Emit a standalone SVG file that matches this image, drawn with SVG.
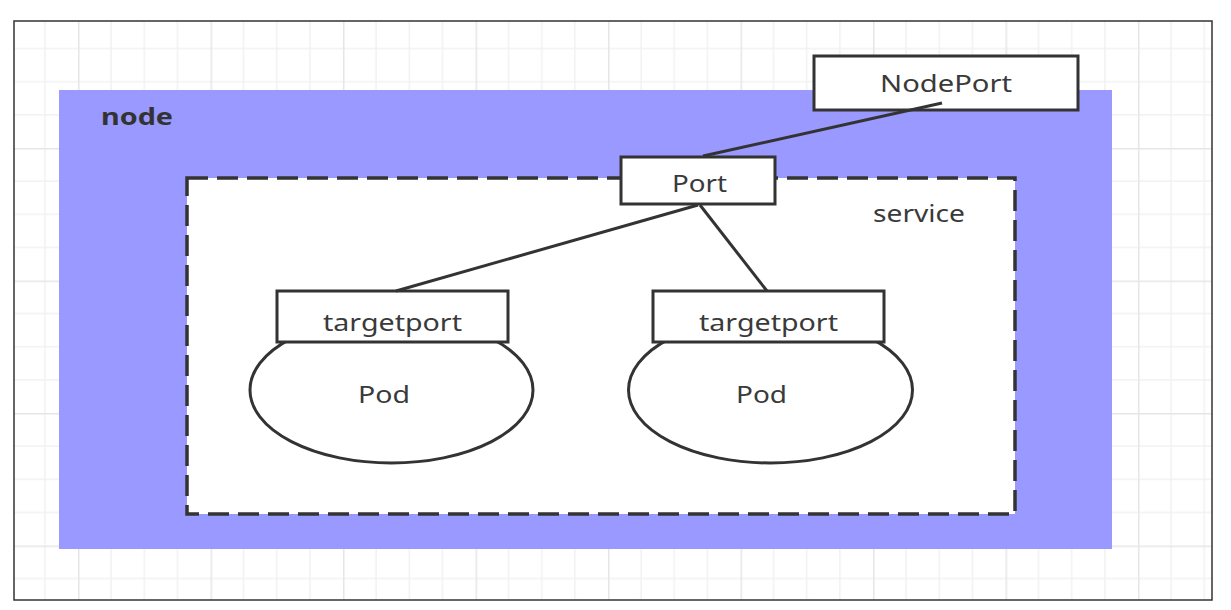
<svg xmlns="http://www.w3.org/2000/svg" width="1231" height="610" viewBox="0 0 1231 610">
<defs>
<pattern id="grid" patternUnits="userSpaceOnUse" x="78" y="148" width="132.5" height="132.5">
<path d="M33.125 0V132.5M66.25 0V132.5M99.375 0V132.5M0 33.125H132.5M0 66.25H132.5M0 99.375H132.5" stroke="#f1f1f1" stroke-width="1.5" fill="none"/>
<path d="M0.75 0V132.5M0 0.75H132.5" stroke="#e6e6e6" stroke-width="1.5" fill="none"/>
</pattern>
<style>
.lbl{font-family:"Noto Sans","Open Sans","DejaVu Sans",sans-serif;font-size:24px;fill:#3a3a3a;text-anchor:middle}
.box{fill:#fff;stroke:#333;stroke-width:3}
.conn{stroke:#333;stroke-width:3;fill:none}
</style>
</defs>
<rect width="1231" height="610" fill="#fff"/>
<rect x="14" y="21" width="1198" height="579" fill="url(#grid)"/>
<rect x="14" y="21" width="1198" height="579" fill="none" stroke="#333" stroke-width="1.5"/>
<g id="node">
<rect x="59" y="90" width="1053" height="459" fill="#9999ff"/>
<text x="101" y="125" font-family="'Noto Sans','Open Sans',sans-serif" font-weight="bold" font-size="23" fill="#333" textLength="72" lengthAdjust="spacingAndGlyphs">node</text>
</g>
<g id="service">
<rect x="187" y="178" width="828" height="336" fill="#fff" stroke="#333" stroke-width="3.5" stroke-dasharray="21 9"/>
<text class="lbl" x="919" y="222" textLength="92" lengthAdjust="spacingAndGlyphs">service</text>
</g>
<g id="pod1">
<ellipse cx="391.5" cy="390" rx="141.5" ry="73" class="box"/>
<text class="lbl" x="384" y="403" textLength="52" lengthAdjust="spacingAndGlyphs">Pod</text>
</g>
<g id="pod2">
<ellipse cx="770.5" cy="390" rx="142" ry="73" class="box"/>
<text class="lbl" x="761.5" y="403" textLength="51" lengthAdjust="spacingAndGlyphs">Pod</text>
</g>
<g id="targetport1">
<rect x="277" y="291" width="231" height="51" class="box"/>
<text class="lbl" x="392.5" y="331" textLength="139" lengthAdjust="spacingAndGlyphs">targetport</text>
</g>
<g id="targetport2">
<rect x="653" y="291" width="231" height="51" class="box"/>
<text class="lbl" x="768.5" y="331" textLength="139" lengthAdjust="spacingAndGlyphs">targetport</text>
</g>
<g id="nodeport">
<rect x="814" y="56" width="264" height="54" class="box"/>
<text class="lbl" x="946" y="92" textLength="132" lengthAdjust="spacingAndGlyphs">NodePort</text>
</g>
<g id="port">
<rect x="621" y="157" width="154" height="47" class="box"/>
<text class="lbl" x="699.5" y="192" textLength="55" lengthAdjust="spacingAndGlyphs">Port</text>
</g>
<g id="connectors">
<line class="conn" x1="942" y1="103" x2="703" y2="156"/>
<line class="conn" x1="698" y1="205" x2="396" y2="291"/>
<line class="conn" x1="700" y1="205" x2="767" y2="291"/>
</g>
</svg>
